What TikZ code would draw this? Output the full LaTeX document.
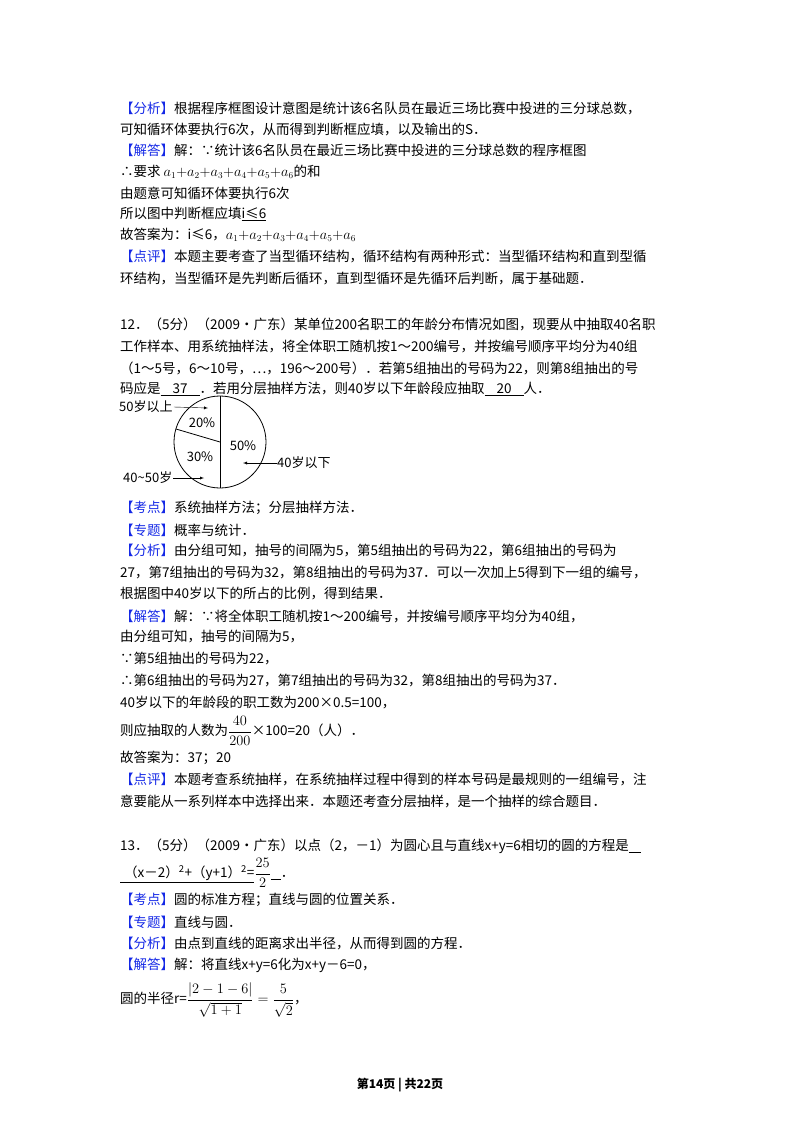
\documentclass[tikz,border=0pt]{standalone}
\usepackage{fontspec}
\usepackage{amsmath}
\setmainfont{Noto Sans CJK SC}
\definecolor{tag}{RGB}{20,40,230}
\newcommand{\tg}[1]{\textcolor{tag}{【#1】}}
\begin{document}
\begin{tikzpicture}[x=1pt,y=-1pt,
  ln/.style={anchor=west,inner sep=0pt,font=\fontsize{13.5}{16}\selectfont},
  pl/.style={anchor=west,inner sep=0pt,font=\fontsize{13}{15}\selectfont},
  arr/.style={-latex,thin}]
\useasboundingbox (0,0) rectangle (800,1132);
\node[ln] (l1) at (120,108) {\tg{分析}根据程序框图设计意图是统计该6名队员在最近三场比赛中投进的三分球总数，};
\node[ln] (l2) at (120,129) {可知循环体要执行6次，从而得到判断框应填，以及输出的S．};
\node[ln] (l3) at (120,150) {\tg{解答}解：∵统计该6名队员在最近三场比赛中投进的三分球总数的程序框图};
\node[ln] (l4) at (120,172) {∴要求 $a_1{+}a_2{+}a_3{+}a_4{+}a_5{+}a_6$的和};
\node[ln] (l5) at (120,193) {由题意可知循环体要执行6次};
\node[ln] (l6) at (120,214) {所以图中判断框应填\underline{i≤6}};
\node[ln] (l7) at (120,235) {故答案为：i≤6，$a_1{+}a_2{+}a_3{+}a_4{+}a_5{+}a_6$};
\node[ln] (l8) at (120,257) {\tg{点评}本题主要考查了当型循环结构，循环结构有两种形式：当型循环结构和直到型循};
\node[ln] (l9) at (120,279) {环结构，当型循环是先判断后循环，直到型循环是先循环后判断，属于基础题．};
\node[ln] (m1) at (120,324) {12．（5分）（2009•广东）某单位200名职工的年龄分布情况如图，现要从中抽取40名职};
\node[ln] (m2) at (120,346) {工作样本、用系统抽样法，将全体职工随机按1～200编号，并按编号顺序平均分为40组};
\node[ln] (m3) at (120,368) {（1～5号，6～10号，…，196～200号）．若第5组抽出的号码为22，则第8组抽出的号};
\node[ln] (m4) at (120,389) {码应是\underline{\hspace{12pt}37\hspace{12pt}}．若用分层抽样方法，则40岁以下年龄段应抽取\underline{\hspace{12pt}20\hspace{12pt}}人．};
% pie
\coordinate (c) at (220,442);
\draw[thick] (c) circle (46);
\draw[thick] (220,396) -- (220,488);
\draw[thick] (c) -- (176,429);
\node[pl,anchor=center] (p20) at (202,423) {20\%};
\node[pl,anchor=center] (p30) at (200,457) {30\%};
\node[pl,anchor=center] (p50) at (243,446) {50\%};
\node[pl] (t50) at (119,407) {50岁以上};
\node[pl] (t40) at (123,478) {40\textasciitilde50岁};
\node[pl] (t4x) at (277,463) {40岁以下};
\coordinate (a1) at (208,408); \coordinate (a2) at (204,478); \coordinate (a3) at (243,463);
\draw[arr] (t50.east) ++(1,0) -- (a1);
\draw[arr] (t40.east) ++(1,0) -- (a2);
\draw[arr] (t4x.west) -- (a3);
\node[ln] (n1) at (120,508) {\tg{考点}系统抽样方法；分层抽样方法．};
\node[ln] (n2) at (120,530) {\tg{专题}概率与统计．};
\node[ln] (n3) at (120,551) {\tg{分析}由分组可知，抽号的间隔为5，第5组抽出的号码为22，第6组抽出的号码为};
\node[ln] (n4) at (120,573) {27，第7组抽出的号码为32，第8组抽出的号码为37．可以一次加上5得到下一组的编号，};
\node[ln] (n5) at (120,594) {根据图中40岁以下的所占的比例，得到结果．};
\node[ln] (n6) at (120,616) {\tg{解答}解：∵将全体职工随机按1～200编号，并按编号顺序平均分为40组，};
\node[ln] (n7) at (120,637) {由分组可知，抽号的间隔为5，};
\node[ln] (n8) at (120,659) {∵第5组抽出的号码为22，};
\node[ln] (n9) at (120,681) {∴第6组抽出的号码为27，第7组抽出的号码为32，第8组抽出的号码为37．};
\node[ln] (n10) at (120,703) {40岁以下的年龄段的职工数为200×0.5=100，};
\node[ln] (n11) at (120,731) {则应抽取的人数为$\dfrac{40}{200}$×100=20（人）．};
\node[ln] (n12) at (120,758) {故答案为：37；20};
\node[ln] (n13) at (120,780) {\tg{点评}本题考查系统抽样，在系统抽样过程中得到的样本号码是最规则的一组编号，注};
\node[ln] (n14) at (120,801) {意要能从一系列样本中选择出来．本题还考查分层抽样，是一个抽样的综合题目．};
\node[ln] (q1) at (120,846) {13．（5分）（2009•广东）以点（2，－1）为圆心且与直线x+y=6相切的圆的方程是\underline{\hspace{12pt}}};
\node[ln] (q2) at (120,873) {\underline{\hspace{4pt}（x－2）\textsuperscript{2}+（y+1）\textsuperscript{2}=}$\dfrac{25}{2}$\underline{\hspace{10pt}}．};
\node[ln] (q3) at (120,900) {\tg{考点}圆的标准方程；直线与圆的位置关系．};
\node[ln] (q4) at (120,922) {\tg{专题}直线与圆．};
\node[ln] (q5) at (120,943) {\tg{分析}由点到直线的距离求出半径，从而得到圆的方程．};
\node[ln] (q6) at (120,965) {\tg{解答}解：将直线x+y=6化为x+y－6=0，};
\node[ln] (q7) at (120,1000) {圆的半径r=$\dfrac{|2-1-6|}{\sqrt{1+1}}=\dfrac{5}{\sqrt{2}}$，};
\node[anchor=center,font=\fontsize{12}{14}\selectfont\bfseries] (ft) at (400,1085) {第14页 | 共22页};
\end{tikzpicture}
\end{document}
